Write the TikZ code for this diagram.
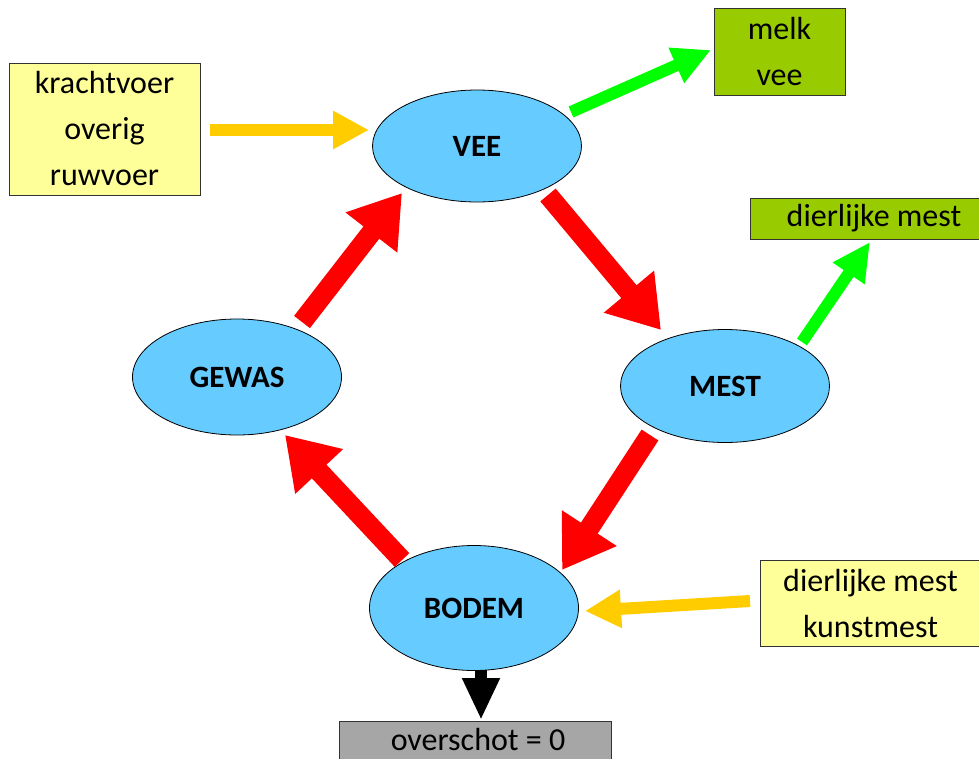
\documentclass[tikz,border=0pt]{standalone}
\usepackage{fontspec}
\setmainfont{Carlito}
\usetikzlibrary{arrows.meta,shapes.geometric}
\definecolor{lyellow}{HTML}{FFFF99}
\definecolor{olive}{HTML}{99CC00}
\definecolor{sky}{HTML}{66CCFF}
\definecolor{gold}{HTML}{FFCC00}
\definecolor{lime}{HTML}{00FF00}
\definecolor{grayb}{HTML}{A6A6A6}
\begin{document}
\begin{tikzpicture}[x=1pt,y=-1pt,
  ell/.style={ellipse,draw=black,line width=0.8pt,fill=sky,minimum width=209pt,minimum height=#1,font=\fontsize{31}{36}\selectfont\bfseries,inner sep=0pt},
  box/.style={draw=black!80,line width=1pt,inner sep=0pt,align=center,font=\fontsize{32}{46}\selectfont},
  redarr/.style={draw=red,line width=20pt,-{Triangle[length=50pt,width=62pt]}},
  goldarr/.style={draw=gold,line width=12pt,-{Triangle[length=36pt,width=36pt]}},
  greenarr/.style={draw=lime,line width=12pt,-{Triangle[length=38pt,width=36pt]}},
  blackarr/.style={draw=black,line width=12pt,-{Triangle[length=42pt,width=35pt]}}]
\useasboundingbox (0,0) rectangle (979,758);
% ellipses
\node[ell=112pt] (vee) at (477,146) {VEE};
\node[ell=113pt] (mest) at (725,386) {MEST};
\node[ell=116pt] (gewas) at (237,377) {GEWAS};
\node[ell=125pt] (bodem) at (474,608) {BODEM};
% boxes
\node[box,fill=lyellow,minimum width=191pt,minimum height=132pt] (kv) at (104.5,129) {krachtvoer\\overig\\ruwvoer};
\node[box,fill=olive,minimum width=131pt,minimum height=87pt] (mv) at (779.5,51.5) {melk\\vee};
\node[box,fill=olive,minimum width=248pt,minimum height=41pt] (dm) at (874,218.5) {dierlijke mest};
\node[box,fill=lyellow,minimum width=220pt,minimum height=86pt,anchor=west] (km) at (760,603) {dierlijke mest\\kunstmest};
\node[box,fill=grayb,minimum width=272pt,minimum height=44pt,anchor=north west] (ov) at (339,721) {};
\node[font=\fontsize{32}{36}\selectfont,anchor=base] (ovt) at (478,750) {overschot = 0};
% connector end points
\coordinate (kvs) at (210,130);
\coordinate (vin) at (369,130);
\coordinate (vmo) at (571,112);
\coordinate (mvi) at (711,50);
\coordinate (mo) at (802,342);
\coordinate (dmi) at (870,242);
\coordinate (vmout) at (548,195);
\coordinate (mi) at (661,330);
\coordinate (mout) at (650,435);
\coordinate (bi) at (562,570);
\coordinate (bo) at (402,560);
\coordinate (gi) at (285,435);
\coordinate (go) at (302,322);
\coordinate (vi) at (402,193);
\coordinate (kms) at (750,601);
\coordinate (bin) at (585,611);
\coordinate (bb) at (481,670);
\coordinate (ovi) at (481,720);
% arrows
\draw[redarr] (vmout) -- (mi);
\draw[redarr] (mout) -- (bi);
\draw[redarr] (bo) -- (gi);
\draw[redarr] (go) -- (vi);
\draw[goldarr] (kvs) -- (vin);
\draw[goldarr] (kms) -- (bin);
\draw[greenarr] (vmo) -- (mvi);
\draw[greenarr] (mo) -- (dmi);
\draw[blackarr] (bb) -- (ovi);
\end{tikzpicture}
\end{document}
